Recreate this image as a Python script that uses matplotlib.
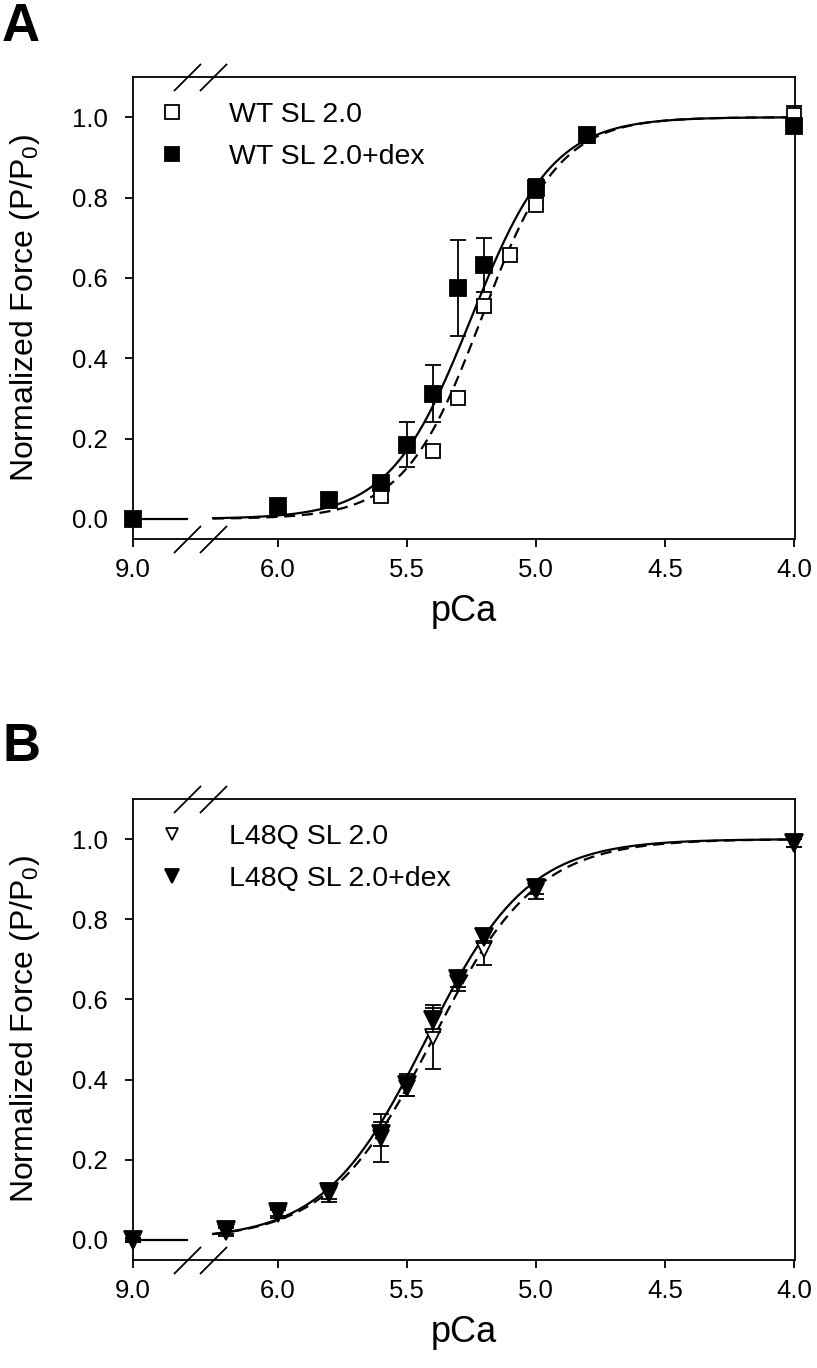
import numpy as np
import matplotlib
matplotlib.use("Agg")
import matplotlib.pyplot as plt

plt.rcParams['font.family'] = ['Liberation Sans', 'DejaVu Sans']
plt.rcParams['mathtext.fontset'] = 'custom'
plt.rcParams['mathtext.rm'] = 'Liberation Sans'
plt.rcParams['mathtext.default'] = 'regular'

# ---------------- data ----------------
# Panel A: WT
wt_pca = [9.0, 5.6, 5.4, 5.3, 5.2, 5.1, 5.0, 4.8, 4.0]
wt_force = [0.0, 0.056, 0.17, 0.30, 0.531, 0.657, 0.782, 0.952, 1.005]
wt_err = [0.005, 0.01, 0.01, 0.01, 0.015, 0.01, 0.01, 0.01, 0.022]

wtdex_pca = [9.0, 6.0, 5.8, 5.6, 5.5, 5.4, 5.3, 5.2, 5.0, 4.8, 4.0]
wtdex_force = [0.0, 0.033, 0.048, 0.09, 0.184, 0.312, 0.575, 0.632, 0.824, 0.955, 0.978]
wtdex_err = [0.005, 0.008, 0.01, 0.015, 0.056, 0.072, 0.12, 0.067, 0.023, 0.01, 0.01]

# Panel B: L48Q
l48_pca = [9.0, 6.2, 6.0, 5.8, 5.6, 5.5, 5.4, 5.3, 5.2, 5.0, 4.0]
l48_force = [0.0, 0.02, 0.065, 0.115, 0.255, 0.38, 0.507, 0.64, 0.727, 0.87, 0.99]
l48_err = [0.005, 0.01, 0.01, 0.02, 0.06, 0.02, 0.08, 0.02, 0.04, 0.02, 0.01]

l48dex_pca = [9.0, 6.2, 6.0, 5.8, 5.6, 5.5, 5.4, 5.3, 5.2, 5.0, 4.0]
l48dex_force = [0.0, 0.025, 0.07, 0.12, 0.265, 0.387, 0.549, 0.652, 0.756, 0.877, 0.99]
l48dex_err = [0.005, 0.01, 0.01, 0.018, 0.03, 0.027, 0.03, 0.02, 0.015, 0.015, 0.01]

# Hill fit parameters (pCa50, nH)
fit_wt = (5.21, 2.9)
fit_wtdex = (5.25, 2.75)
fit_l48 = (5.40, 2.15)
fit_l48dex = (5.425, 2.2)

x_ticks = [9.0, 6.0, 5.5, 5.0, 4.5, 4.0]
x_ticklabels = ['9.0', '6.0', '5.5', '5.0', '4.5', '4.0']
y_ticks = [0.0, 0.2, 0.4, 0.6, 0.8, 1.0]
y_ticklabels = ['0.0', '0.2', '0.4', '0.6', '0.8', '1.0']

# ---------------- layout helpers ----------------
NINE_POS = 6.56      # axis position used for pCa 9.0 (broken axis)
BREAK_L, BREAK_R = 6.35, 6.25


def xpos(p):
    p = np.asarray(p, dtype=float)
    return np.where(p > 7.0, NINE_POS, p)


def hill(p, p50, n):
    return 1.0 / (1.0 + 10 ** (n * (p - p50)))


W, H = 817, 1368
fig = plt.figure(figsize=(W / 100, H / 100), dpi=100)


def make_axes(top_px, bottom_px):
    left, right = 133, 795
    return fig.add_axes([left / W, 1 - bottom_px / H, (right - left) / W, (bottom_px - top_px) / H])


def style_axes(ax):
    ax.set_xlim(NINE_POS, 3.996)
    ax.set_ylim(-0.05, 1.1)
    ax.set_xticks(xpos(x_ticks))
    ax.set_xticklabels(x_ticklabels)
    ax.set_yticks(y_ticks)
    ax.set_yticklabels(y_ticklabels)
    for s in ax.spines.values():
        s.set_linewidth(1.3)
    ax.tick_params(direction='out', length=6, width=1.3, labelsize=18.5)
    ax.tick_params(axis='y', pad=12)
    ax.tick_params(axis='x', pad=8)
    ax.set_ylabel('Normalized Force (P/P$_0$)', fontsize=23, labelpad=22)
    ax.set_xlabel('pCa', fontsize=26, labelpad=8)
    # break marks
    tr = ax.get_xaxis_transform()
    for yy in (0, 1):
        ax.plot([BREAK_L, BREAK_R], [yy, yy], ls='none', marker=[(-1, -1), (1, 1)],
                ms=19.5, mew=1.3, color='k', transform=tr, clip_on=False, zorder=5)


def draw_fits(ax, fit_dashed, fit_solid):
    pp = np.linspace(BREAK_R, 4.0, 300)
    ax.plot([NINE_POS, BREAK_L], [hill(9.0, *fit_solid)] * 2, color='k', lw=1.6, zorder=2)
    ax.plot(pp, hill(pp, *fit_dashed), color='k', lw=1.6, ls=(0, (5, 3)), zorder=2)
    ax.plot(pp, hill(pp, *fit_solid), color='k', lw=1.6, zorder=2)


def draw_series(ax, pca, force, err, marker, ms, filled, label, z):
    ax.errorbar(xpos(pca), force, yerr=err, fmt='none', ecolor='k', elinewidth=1.3,
                capsize=5.5, capthick=1.3, zorder=z, clip_on=False)
    ax.plot(xpos(pca), force, ls='none', marker=marker, ms=ms, mew=1.3, mec='k',
            mfc='k' if filled else 'white', zorder=z + 0.5, clip_on=False, label=label)


leg_kw = dict(loc='upper left', bbox_to_anchor=(0.042, 0.945), frameon=False, fontsize=20.5,
              handlelength=0.8, handletextpad=1.6, labelspacing=0.55, borderpad=0,
              borderaxespad=0)

# ---------------- Panel A ----------------
axA = make_axes(77, 539)
style_axes(axA)
draw_fits(axA, fit_wt, fit_wtdex)
draw_series(axA, wt_pca, wt_force, wt_err, 's', 10.5, False, 'WT SL 2.0', 3)
draw_series(axA, wtdex_pca, wtdex_force, wtdex_err, 's', 11.5, True, 'WT SL 2.0+dex', 4)
axA.legend(markerscale=0.9, **leg_kw)

# ---------------- Panel B ----------------
axB = make_axes(799, 1260)
style_axes(axB)
draw_fits(axB, fit_l48, fit_l48dex)
draw_series(axB, l48_pca, l48_force, l48_err, 'v', 11, False, 'L48Q SL 2.0', 3)
draw_series(axB, l48dex_pca, l48dex_force, l48dex_err, 'v', 13, True, 'L48Q SL 2.0+dex', 4)
axB.legend(markerscale=0.8, **leg_kw)

fig.text(2 / W, 1 - 2 / H, 'A', fontsize=38, fontweight='bold', va='top', ha='left')
fig.text(2 / W, 1 - 722 / H, 'B', fontsize=38, fontweight='bold', va='top', ha='left')

fig.savefig('out.png', dpi=100)
